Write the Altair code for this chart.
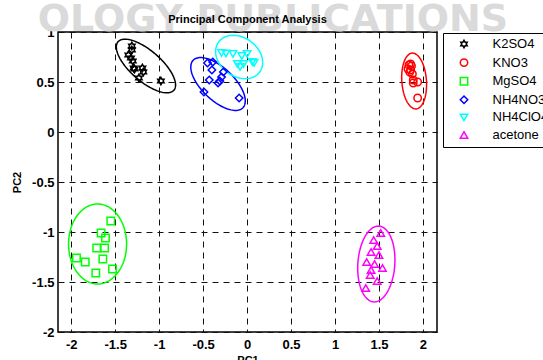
import altair as alt
import pandas as pd
import numpy as np

groups = ["K2SO4", "KNO3", "MgSO4", "NH4NO3", "NH4ClO4", "acetone"]
colors = ["#000000", "#ff0000", "#00ff00", "#0000ff", "#00ffff", "#ff00ff"]
hexagram = ("M0,-1L0.289,-0.5L0.866,-0.5L0.577,0L0.866,0.5L0.289,0.5L0,1"
            "L-0.289,0.5L-0.866,0.5L-0.577,0L-0.866,-0.5L-0.289,-0.5Z")
shapes = [hexagram, "circle", "square", "diamond", "triangle-down", "triangle-up"]

k2so4_x = [-1.31, -1.31, -1.35, -1.32, -1.30, -1.29, -1.28, -1.19, -1.18, -1.23, -0.98]
k2so4_y = [0.86, 0.82, 0.77, 0.74, 0.71, 0.64, 0.63, 0.64, 0.60, 0.54, 0.51]
kno3_x = [1.86, 1.84, 1.87, 1.83, 1.86, 1.85, 1.88, 1.89, 1.94, 1.89, 1.94]
kno3_y = [0.68, 0.67, 0.66, 0.63, 0.62, 0.60, 0.58, 0.52, 0.50, 0.49, 0.34]
mgso4_x = [-1.55, -1.66, -1.61, -1.71, -1.62, -1.64, -1.94, -1.84, -1.53, -1.72]
mgso4_y = [-0.89, -1.01, -1.06, -1.16, -1.16, -1.27, -1.26, -1.30, -1.37, -1.41]
nh4no3_x = [-0.45, -0.39, -0.40, -0.43, -0.31, -0.29, -0.27, -0.33, -0.49, -0.09]
nh4no3_y = [0.69, 0.70, 0.62, 0.52, 0.51, 0.55, 0.60, 0.49, 0.40, 0.34]
nh4clo4_x = [-0.29, -0.24, -0.16, -0.06, 0.00, 0.08, -0.11, -0.08, -0.04, 0.06]
nh4clo4_y = [0.79, 0.785, 0.78, 0.76, 0.78, 0.69, 0.68, 0.65, 0.68, 0.70]
acetone_x = [1.52, 1.44, 1.48, 1.41, 1.50, 1.36, 1.45, 1.41, 1.54, 1.40, 1.48, 1.35]
acetone_y = [-1.01, -1.08, -1.14, -1.20, -1.23, -1.30, -1.32, -1.38, -1.36, -1.43, -1.49, -1.56]

# confidence ellipses: centre, semi-axes, rotation (degrees)
ell_cx = [-1.15, 1.90, -1.70, -0.33, -0.09, 1.47]
ell_cy = [0.66, 0.51, -1.12, 0.48, 0.75, -1.32]
ell_a = [0.40, 0.28, 0.40, 0.37, 0.28, 0.38]
ell_b = [0.16, 0.14, 0.33, 0.17, 0.20, 0.21]
ell_ang = [-36, 95, 90, -38, -25, 85]

tick_vals = [-2, -1.5, -1, -0.5, 0, 0.5, 1, 1.5, 2]
ytick_vals = [-2, -1.5, -1, -0.5, 0, 0.5, 1]
title_text = ["Principal Component Analysis"]
watermark_text = ["OLOGY  PUBLICATIONS"]

xs = [k2so4_x, kno3_x, mgso4_x, nh4no3_x, nh4clo4_x, acetone_x]
ys = [k2so4_y, kno3_y, mgso4_y, nh4no3_y, nh4clo4_y, acetone_y]
rows = []
for g, xl, yl in zip(groups, xs, ys):
    for xv, yv in zip(xl, yl):
        rows.append({"group": g, "x": xv, "y": yv})
pts = pd.DataFrame(rows)

t = np.linspace(0, 2 * np.pi, 121)
erows = []
for g, col, cx, cy, a, b, ang in zip(groups, colors, ell_cx, ell_cy, ell_a, ell_b, ell_ang):
    th = np.radians(ang)
    ex = cx + a * np.cos(th) * np.cos(t) - b * np.sin(th) * np.sin(t)
    ey = cy + a * np.sin(th) * np.cos(t) + b * np.cos(th) * np.sin(t)
    for i, (xv, yv) in enumerate(zip(ex, ey)):
        erows.append({"eg": g, "hex": col, "i": i, "x": xv, "y": yv})
ell = pd.DataFrame(erows)

FONT = "Liberation Sans"
xscale = alt.Scale(domain=[-2.15, 2.16], nice=False, zero=False)
yscale = alt.Scale(domain=[-2, 1], nice=False, zero=False)

xaxis = alt.Axis(values=tick_vals, title="PC1", grid=True, gridDash=[6, 5],
                 gridColor="#111111", gridWidth=1, ticks=False, domain=False,
                 labelFont=FONT, labelFontSize=13, labelFontWeight="bold",
                 labelColor="black", labelPadding=6, labelExpr="datum.value + ''",
                 titleFont=FONT, titleFontSize=11, titleFontWeight="bold",
                 titleColor="black", titleY=22, titleBaseline="top")
yaxis = alt.Axis(values=ytick_vals, title="PC2", grid=True, gridDash=[6, 5],
                 gridColor="#111111", gridWidth=1, ticks=False, domain=False,
                 labelFont=FONT, labelFontSize=13, labelFontWeight="bold",
                 labelColor="black", labelPadding=4, labelExpr="datum.value + ''",
                 titleFont=FONT, titleFontSize=11, titleFontWeight="bold",
                 titleColor="black", titleX=-41, titleY=150, titleAngle=270,
                 titleAlign="center", titleBaseline="middle")

watermark = alt.Chart(pd.DataFrame({"txt": watermark_text})).mark_text(
    font="DejaVu Sans", fontSize=38, fontWeight="bold", color="#dadada",
    align="center", baseline="middle"
).encode(text="txt:N", x=alt.value(215), y=alt.value(-12))

title = alt.Chart(pd.DataFrame({"txt": title_text})).mark_text(
    font=FONT, fontSize=11, fontWeight="bold", color="black",
    align="center", baseline="alphabetic"
).encode(text="txt:N", x=alt.value(189.5), y=alt.value(-9))

ellipses = alt.Chart(ell).mark_line(strokeWidth=1.5).encode(
    x=alt.X("x:Q", scale=xscale, axis=xaxis),
    y=alt.Y("y:Q", scale=yscale, axis=yaxis),
    color=alt.Color("hex:N", scale=None),
    detail="eg:N",
    order="i:Q",
)

legend = alt.Legend(title=None, orient="none", legendX=385, legendY=1,
                    strokeColor="black", fillColor="white", padding=4.5,
                    cornerRadius=0, labelFont=FONT, labelFontSize=13,
                    labelColor="black", rowPadding=3.6, symbolSize=55,
                    symbolStrokeWidth=1.5, symbolOffset=10, labelOffset=22)

points = alt.Chart(pts).mark_point(filled=False, size=55, strokeWidth=1.5, opacity=1).encode(
    x=alt.X("x:Q", scale=xscale, axis=xaxis),
    y=alt.Y("y:Q", scale=yscale, axis=yaxis),
    color=alt.Color("group:N", scale=alt.Scale(domain=groups, range=colors), legend=legend),
    shape=alt.Shape("group:N", scale=alt.Scale(domain=groups, range=shapes), legend=legend),
)

chart = alt.layer(watermark, title, ellipses, points).properties(
    width=379, height=300,
    autosize=alt.AutoSizeParams(type="none"),
    padding={"left": 58, "top": 32, "right": 106, "bottom": 28},
    background="white",
).configure_view(stroke="black", strokeWidth=1.5)

chart.save("out.html", embed_options={"renderer": "svg", "actions": False})
